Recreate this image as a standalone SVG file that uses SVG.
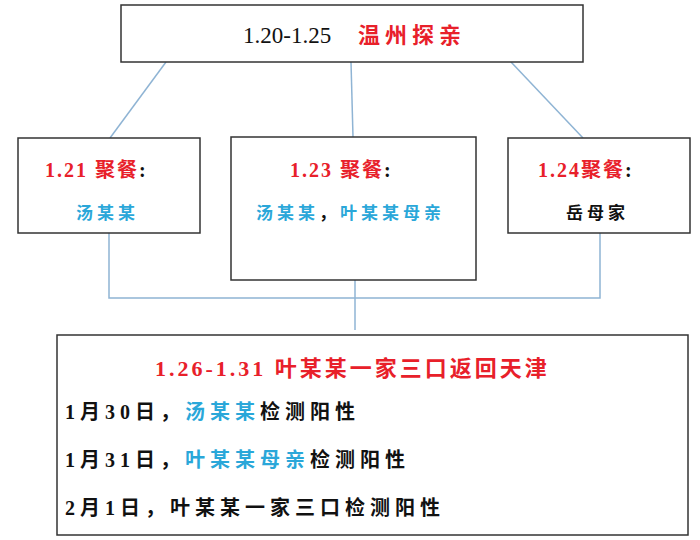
<svg xmlns="http://www.w3.org/2000/svg" width="700" height="540" viewBox="0 0 700 540">
<style>
.box{fill:#fff;stroke:#333;stroke-width:1.5}
.c{stroke:#8fb4d4;stroke-width:1.5;fill:none}
text{font-family:"Liberation Serif","Noto Sans CJK SC",serif;font-weight:bold}
.r{fill:#e8202a}.b{fill:#2aa7d9}.k{fill:#111}
.lab{font-size:20px;letter-spacing:2px}
.sub{font-size:17px;letter-spacing:4px}
.ln{font-size:20px;letter-spacing:5px}
</style>
<rect width="700" height="540" fill="#fff"/>
<g id="connectors">
<line class="c" x1="166" y1="62" x2="110" y2="138"/>
<line class="c" x1="351" y1="62" x2="353" y2="137"/>
<line class="c" x1="511" y1="62" x2="583" y2="138"/>
<polyline class="c" points="109,233 109,298 600,298 600,233"/>
<line class="c" x1="355" y1="280" x2="355" y2="330"/>
</g>
<g id="top"><rect class="box" x="121" y="5" width="462" height="57"/>
<text x="243" y="43" font-size="23" class="k" style="font-weight:normal">1.20-1.25</text>
<text x="358" y="43" font-size="22" letter-spacing="5" class="r">温州探亲</text></g>
<g id="n121"><rect class="box" x="18" y="138" width="182" height="95"/>
<text x="45" y="177" class="lab r">1.21 聚餐<tspan class="k">:</tspan></text>
<text x="76" y="219" class="sub b">汤某某</text></g>
<g id="n123"><rect class="box" x="231" y="137" width="245" height="143"/>
<text x="290" y="177" class="lab r">1.23 聚餐<tspan class="k">:</tspan></text>
<text x="256" y="219" class="sub b">汤某某<tspan class="k">，</tspan>叶某某母亲</text></g>
<g id="n124"><rect class="box" x="508" y="138" width="182" height="95"/>
<text x="538" y="177" class="lab r">1.24聚餐<tspan class="k">:</tspan></text>
<text x="566" y="219" class="sub k">岳母家</text></g>
<g id="bottom"><rect class="box" x="57" y="335" width="631" height="200"/>
<text x="155" y="376" font-size="22" letter-spacing="3" class="r">1.26-1.31 叶某某一家三口返回天津</text>
<text x="65" y="419" class="ln k">1月30日，<tspan class="b">汤某某</tspan>检测阳性</text>
<text x="65" y="467" class="ln k">1月31日，<tspan class="b">叶某某母亲</tspan>检测阳性</text>
<text x="65" y="515" class="ln k">2月1日，叶某某一家三口检测阳性</text></g>
</svg>
